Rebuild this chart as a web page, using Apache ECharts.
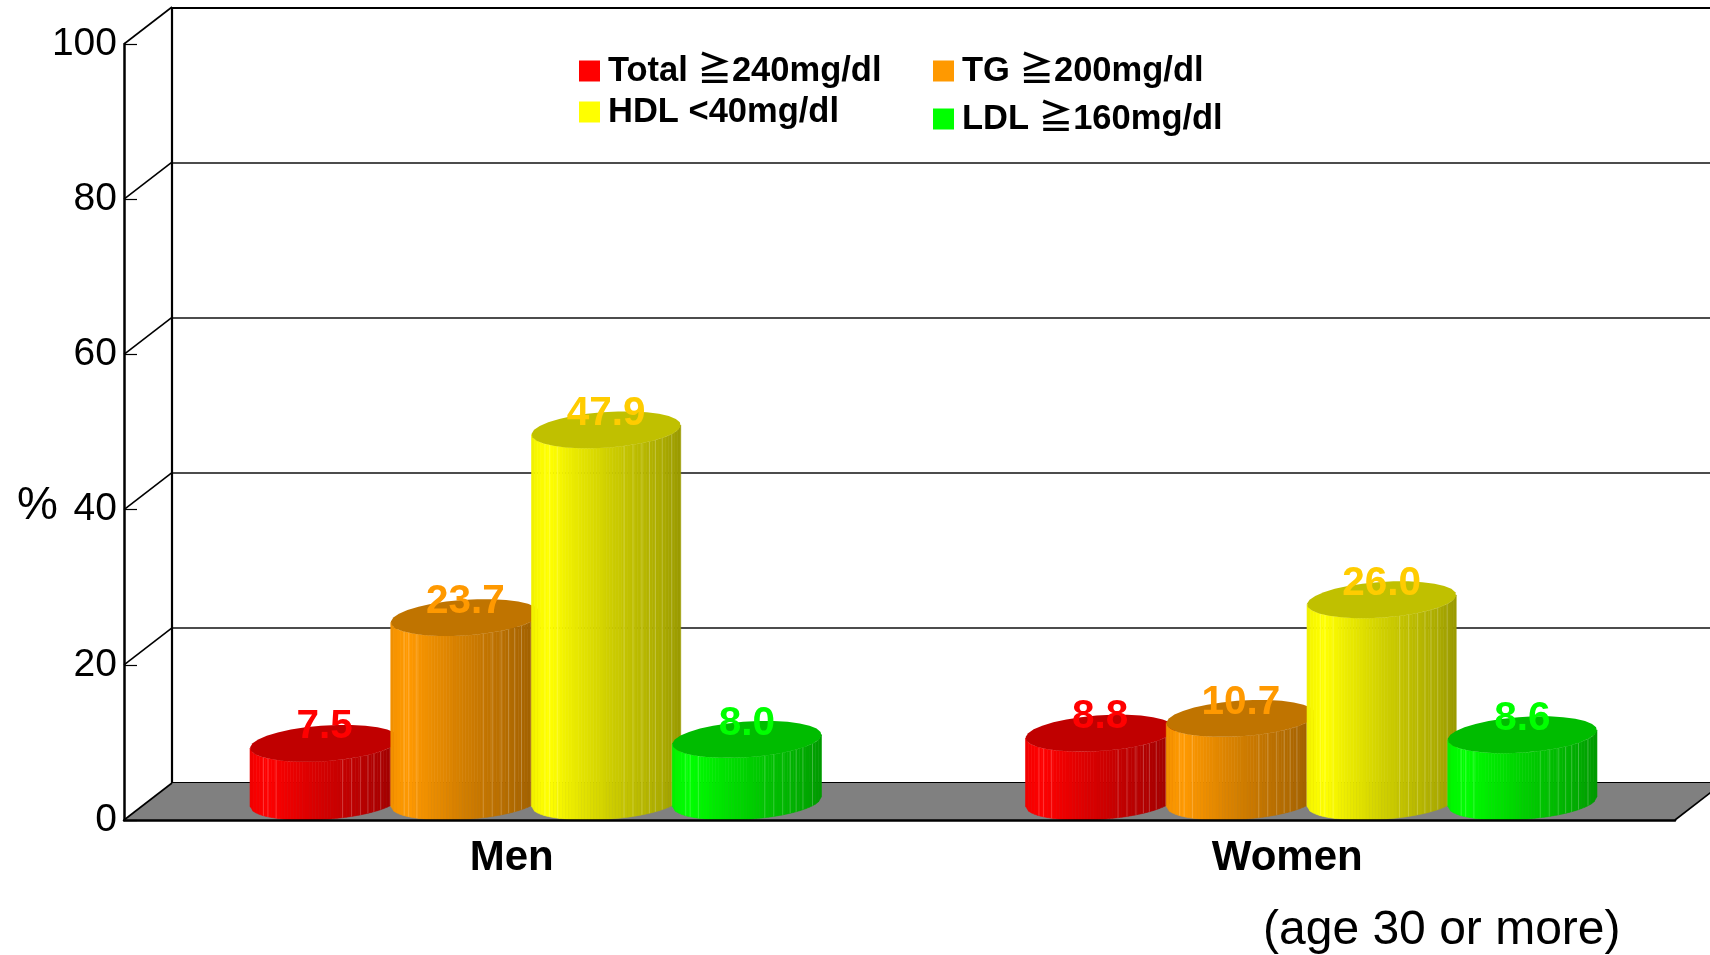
<!DOCTYPE html>
<html>
<head>
<meta charset="utf-8">
<title>Dyslipidemia prevalence</title>
<style>
html,body{margin:0;padding:0;background:#fff}
#chart{width:1710px;height:955px}
</style>
<script src="https://cdn.jsdelivr.net/npm/echarts@6/dist/echarts.min.js"></script>
</head>
<body>
<div id="chart"></div>
<script>
// Prevalence (%) by sex, age 30 or more
const categories = ['Men', 'Women'];
const yTicks = [0, 20, 40, 60, 80, 100];
const totalValues = [7.5, 8.8];
const tgValues = [23.7, 10.7];
const hdlValues = [47.9, 26.0];
const ldlValues = [8.0, 8.6];

const seriesNames = ['Total ≧240mg/dl', 'TG ≧200mg/dl', 'HDL <40mg/dl', 'LDL ≧160mg/dl'];
const seriesValues = [totalValues, tgValues, hdlValues, ldlValues];
const sideColors = ['#ff0000', '#ff9900', '#ffff00', '#00ff00'];
const capColors = ['#c00000', '#c07400', '#c0c000', '#00bc00'];
const labelColors = ['#ff0000', '#ff9900', '#ffcc00', '#00ff00'];

const FONT = '"Liberation Sans","Noto Sans CJK JP",sans-serif';
const DEPTH_X = 48, DEPTH_Y = 37;          // oblique offset of the back wall
const SPACING = 0.1815, RADIUS = 0.0962;   // cylinder pitch and half width, as shares of a band
const SHEAR = 0.27;                        // slant of the cylinder ellipse

// Brightness of the cylinder side across its width
const shadeStops = [[0, .93], [.03, .97], [.12, 1], [.3, .91], [.5, .82], [.7, .74], [.9, .66], [1, .6]];
// Light seams between the side facets
const seams = [.09, .12, .175, .62, .68, .74, .79, .83, .876, .94];

function shadeAt(f) {
  for (let i = 1; i < shadeStops.length; i++) {
    const a = shadeStops[i - 1], b = shadeStops[i];
    if (f <= b[0]) return a[1] + (b[1] - a[1]) * (f - a[0]) / (b[0] - a[0]);
  }
  return .6;
}
function scaleColor(hex, k) {
  const n = parseInt(hex.slice(1), 16);
  const c = [(n >> 16) & 255, (n >> 8) & 255, n & 255].map(v => Math.round(v * k));
  return 'rgb(' + c.join(',') + ')';
}

function cylinderItem(seriesIdx) {
  return function (params, api) {
    const cat = api.value(0), val = api.value(1);
    const band = api.size([1, 0])[0];
    const base = api.coord([cat, 0]);
    const top = api.coord([cat, val]);
    const cx = base[0] + DEPTH_X / 2 + (seriesIdx - 1.5) * SPACING * band;
    const baseY = base[1] - DEPTH_Y / 2;
    const topY = top[1] - DEPTH_Y / 2;
    const R = RADIUS * band;
    const phi = Math.atan(SHEAR);
    const A = R * Math.cos(phi), S = R * Math.sin(phi);
    const px = t => cx + A * Math.cos(t) + S * Math.sin(t);
    const py = (t, y0) => y0 - DEPTH_Y / 2 * Math.sin(t);
    const tOf = f => phi + Math.PI + Math.acos(1 - 2 * f);

    const children = [];
    // side, built from narrow vertical strips along the front arc
    const steps = 48;
    for (let i = 0; i < steps; i++) {
      const t0 = tOf(i / steps), t1 = tOf((i + 1) / steps);
      const fill = scaleColor(sideColors[seriesIdx], shadeAt((i + .5) / steps));
      children.push({
        type: 'polygon',
        shape: { points: [[px(t0), py(t0, topY)], [px(t1), py(t1, topY)], [px(t1), py(t1, baseY)], [px(t0), py(t0, baseY)]] },
        style: { fill: fill, stroke: fill, lineWidth: .6 }
      });
    }
    seams.forEach(f => {
      const t = tOf(f);
      children.push({
        type: 'line',
        shape: { x1: px(t), y1: py(t, topY), x2: px(t), y2: py(t, baseY) },
        style: { stroke: 'rgba(255,255,255,0.22)', lineWidth: 1 }
      });
    });
    // cap
    const cap = [];
    for (let i = 0; i < 30; i++) {
      const t = i / 30 * Math.PI * 2;
      cap.push([px(t), py(t, topY)]);
    }
    children.push({ type: 'polygon', shape: { points: cap }, style: { fill: capColors[seriesIdx] } });
    // value label
    children.push({
      type: 'text',
      style: {
        x: cx, y: topY - 16, text: val.toFixed(1), fill: labelColors[seriesIdx],
        font: 'bold 40.5px ' + FONT, textAlign: 'center', textVerticalAlign: 'middle'
      }
    });
    return { type: 'group', children: children };
  };
}

const floorSeries = {
  type: 'custom', silent: true, z: 1, data: [[0, 0]],
  renderItem(params, api) {
    const cs = params.coordSys;
    const y = api.coord([0, 0])[1];
    return {
      type: 'polygon',
      shape: { points: [[cs.x, y], [cs.x + cs.width, y], [cs.x + cs.width + DEPTH_X, y - DEPTH_Y], [cs.x + DEPTH_X, y - DEPTH_Y]] },
      style: { fill: '#808080' }
    };
  }
};
const sideWallSeries = {
  type: 'custom', silent: true, z: 3, data: yTicks.map(v => [0, v]),
  renderItem(params, api) {
    const cs = params.coordSys;
    const y = api.coord([0, api.value(1)])[1];
    return {
      type: 'line',
      shape: { x1: cs.x, y1: y, x2: cs.x + DEPTH_X, y2: y - DEPTH_Y },
      style: { stroke: '#000', lineWidth: 1.6 }
    };
  }
};
const floorRightEdge = {
  type: 'custom', silent: true, z: 3, data: [[0, 0]],
  renderItem(params, api) {
    const cs = params.coordSys, y = api.coord([0, 0])[1], x = cs.x + cs.width;
    return {
      type: 'line',
      shape: { x1: x, y1: y, x2: x + DEPTH_X, y2: y - DEPTH_Y },
      style: { stroke: '#000', lineWidth: 1.6 }
    };
  }
};

const cylinderSeries = seriesNames.map((name, i) => ({
  type: 'custom',
  name: name,
  z: 5 + i,
  itemStyle: { color: sideColors[i] },
  encode: { x: 0, y: 1 },
  data: seriesValues[i].map((v, c) => [c, v]),
  renderItem: cylinderItem(i)
}));

// One legend box per entry: the entries do not share a common grid
const legendPlaces = [[579, 52], [933, 52], [579, 93], [933, 100]];
const legends = seriesNames.map((name, i) => ({
  left: legendPlaces[i][0], top: legendPlaces[i][1],
  orient: 'horizontal', selectedMode: false, icon: 'rect',
  itemWidth: 21, itemHeight: 21, padding: 0, data: [name],
  textStyle: { fontFamily: FONT, fontWeight: 'bold', fontSize: 34.5, color: '#000', padding: [0, 0, 0, 3], lineHeight: 38 }
}));

const option = {
  animation: false,
  backgroundColor: '#fff',
  legend: legends,
  grid: [
    { left: 124, top: 44, width: 1551, height: 776 },
    { left: 172, top: 8, width: 1551, height: 775 }
  ],
  xAxis: [
    {
      type: 'category', gridIndex: 0, data: categories,
      axisLine: { lineStyle: { color: '#000', width: 2.5 } },
      axisTick: { inside: true, length: 13, lineStyle: { color: '#000', width: 1.2 } },
      axisLabel: { fontFamily: FONT, fontWeight: 'bold', fontSize: 42, color: '#000', margin: 17 },
      z: 20
    },
    { type: 'value', gridIndex: 1, position: 'bottom', min: 0, max: 1, axisLine: { onZero: false, show: true, lineStyle: { color: '#000', width: 2.2 } }, axisTick: { show: false }, axisLabel: { show: false }, splitLine: { show: false } },
    { type: 'value', gridIndex: 1, position: 'top', min: 0, max: 1, axisLine: { onZero: false, show: true, lineStyle: { color: '#000', width: 2.2 } }, axisTick: { show: false }, axisLabel: { show: false }, splitLine: { show: false } }
  ],
  yAxis: [
    {
      type: 'value', gridIndex: 0, min: 0, max: 100, interval: 20,
      axisLine: { show: true, lineStyle: { color: '#000', width: 2.5 } },
      axisTick: { show: true, inside: true, length: 13, lineStyle: { color: '#000', width: 1.2 } },
      axisLabel: { fontFamily: FONT, fontSize: 39, color: '#000', margin: 7, padding: [2, 0, 0, 0] },
      splitLine: { show: false },
      z: 20
    },
    {
      type: 'value', gridIndex: 1, min: 0, max: 100, interval: 20,
      axisLine: { show: true, onZero: false, lineStyle: { color: '#000', width: 2.2 } },
      axisTick: { show: false }, axisLabel: { show: false },
      splitLine: { show: true, lineStyle: { color: '#111', width: 1.5 } }
    }
  ],
  graphic: [
    { type: 'text', left: 17, top: 483, style: { text: '%', font: '46px ' + FONT, fill: '#000' } },
    { type: 'text', left: 1263, top: 907, style: { text: '(age 30 or more)', font: '48px ' + FONT, fill: '#000' } }
  ],
  series: [floorSeries, sideWallSeries, floorRightEdge].concat(cylinderSeries)
};

const chart = echarts.init(document.getElementById('chart'), null, { renderer: 'canvas' });
chart.setOption(option);
</script>
</body>
</html>
